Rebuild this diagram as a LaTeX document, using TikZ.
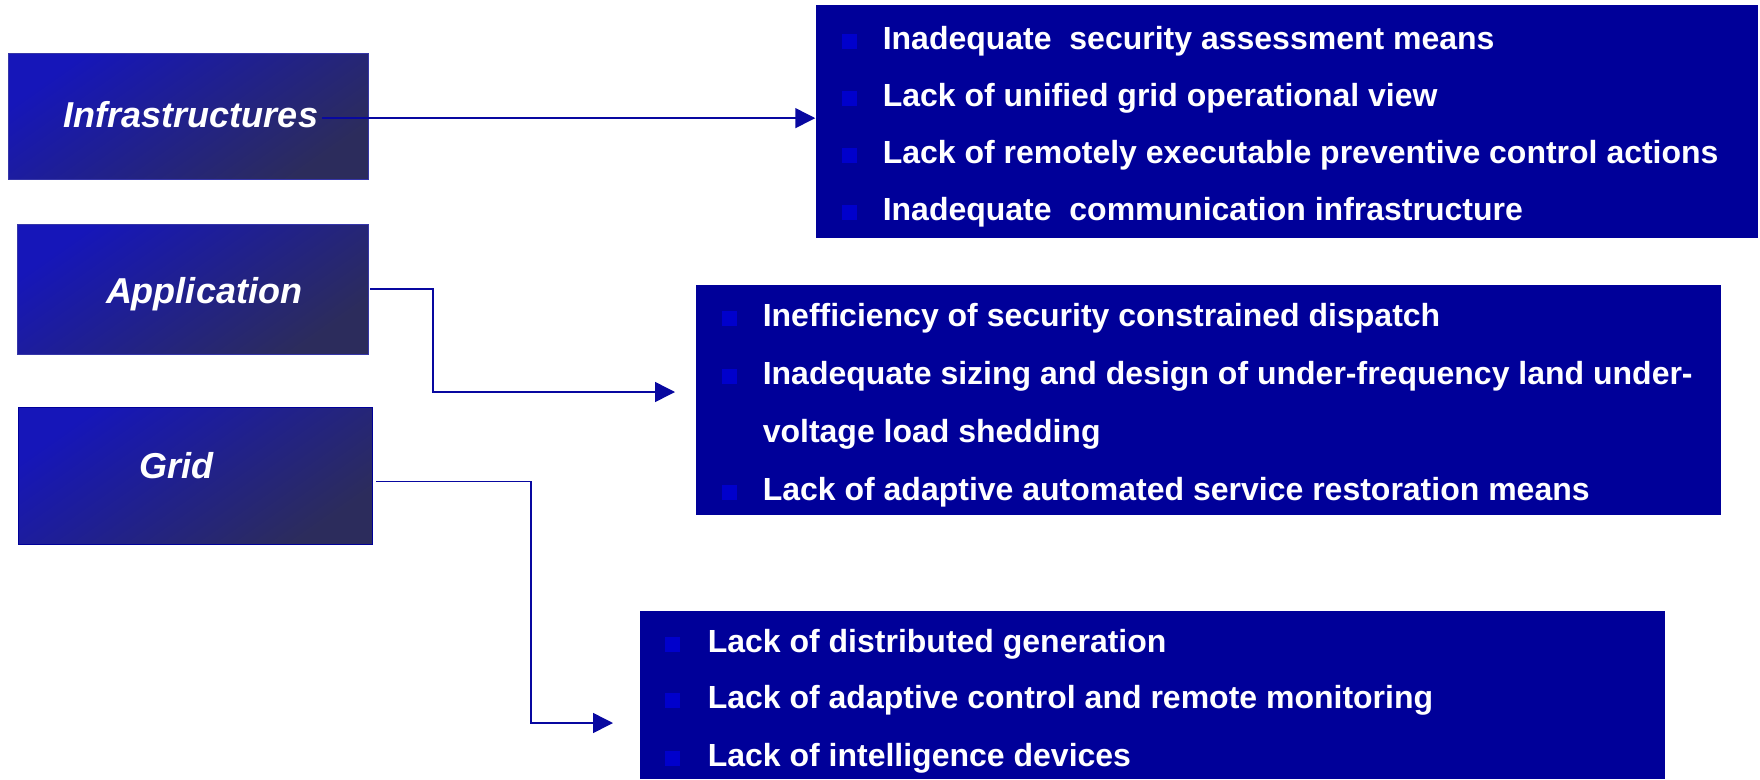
\documentclass[tikz,border=0pt]{standalone}
\usepackage{fontspec}
\setmainfont{Liberation Sans}
\usepackage{xcolor}
\usetikzlibrary{arrows.meta,positioning,calc}

\definecolor{boxblue}{RGB}{0,0,153}
\definecolor{markblue}{RGB}{0,0,204}
\definecolor{shadetop}{RGB}{22,22,185}
\definecolor{shademid}{RGB}{34,34,160}
\definecolor{shadebot}{RGB}{44,44,92}
\definecolor{linkblue}{RGB}{8,8,160}

\begin{document}
\begin{tikzpicture}[
            x = 1pt, y = -1pt, % pixel grid, y downwards
            > = {Triangle[length=20pt,width=20pt]}, % arrow head style
            line width = 1.5pt % line style
        ]

        \tikzstyle{areabox}=[
            shade,
            top color = shadetop,
            middle color = shademid,
            bottom color = shadebot,
            shading angle = 35,
            draw = shadetop!70!gray,
            line width = 0.6pt,
            inner sep = 0pt
        ]
        \tikzstyle{areatext}=[text = white, anchor = base, font = \fontsize{36}{42}\selectfont\bfseries\itshape]
        \tikzstyle{issuebox}=[fill = boxblue, inner sep = 0pt]
        \tikzstyle{issuetext}=[text = white, anchor = base west, inner sep = 0pt, font = \fontsize{32}{38}\selectfont\bfseries]
        \tikzstyle{issuemark}=[fill = markblue, minimum size = 15pt, inner sep = 0pt]
        \tikzstyle{link}=[draw = linkblue, ->]

        \useasboundingbox (0,0) rectangle (1760,779);

        % Areas
        \node[areabox, minimum width = 360pt, minimum height = 126pt] (infra) [at={(188,116)}] {};
        \node[areabox, minimum width = 351pt, minimum height = 130pt] (app) [at={(192.5,289)}] {};
        \node[areabox, minimum width = 354pt, minimum height = 137pt, draw = boxblue] (grid) [at={(195,475.5)}] {};
        \node[areatext] (infratxt) [at={(191,127)}] {Infrastructures};
        \node[areatext] (apptxt) [at={(204,303)}] {Application};
        \node[areatext] (gridtxt) [at={(176,478)}] {Grid};

        % Issues
        \node[issuebox, minimum width = 942pt, minimum height = 233pt] (issues1) [at={(1287,121.5)}] {};
        \node[issuebox, minimum width = 1025pt, minimum height = 230pt] (issues2) [at={(1208.5,400)}] {};
        \node[issuebox, minimum width = 1025pt, minimum height = 168pt] (issues3) [at={(1152.5,695)}] {};

        \node[issuemark] (m11) [at={(849,41)}] {};
        \node[issuemark] (m12) [at={(849,98)}] {};
        \node[issuemark] (m13) [at={(849,155)}] {};
        \node[issuemark] (m14) [at={(849,212)}] {};
        \node[issuetext] (t11) [at={(882,49)}] {Inadequate\ \ security assessment means};
        \node[issuetext] (t12) [at={(882,106)}] {Lack of unified grid operational view};
        \node[issuetext] (t13) [at={(882,163)}] {Lack of remotely executable preventive control actions};
        \node[issuetext] (t14) [at={(882,220)}] {Inadequate\ \ communication infrastructure};

        \node[issuemark] (m21) [at={(729,318)}] {};
        \node[issuemark] (m22) [at={(729,376)}] {};
        \node[issuemark] (m24) [at={(729,492)}] {};
        \node[issuetext] (t21) [at={(762,326)}] {Inefficiency of security constrained dispatch};
        \node[issuetext] (t22) [at={(762,384)}] {Inadequate sizing and design of under-frequency land under-};
        \node[issuetext] (t23) [at={(762,442)}] {voltage load shedding};
        \node[issuetext] (t24) [at={(762,500)}] {Lack of adaptive automated service restoration means};

        \node[issuemark] (m31) [at={(672,644)}] {};
        \node[issuemark] (m32) [at={(672,700)}] {};
        \node[issuemark] (m33) [at={(672,758)}] {};
        \node[issuetext] (t31) [at={(707,652)}] {Lack of distributed generation};
        \node[issuetext] (t32) [at={(707,708)}] {Lack of adaptive control and remote monitoring};
        \node[issuetext] (t33) [at={(707,766)}] {Lack of intelligence devices};

        % Links
        \coordinate (apptip) at (675,392);
        \coordinate (gridtip) at (613,723);
        \draw[link] ([yshift=-4pt]infratxt.east) -- ([yshift=-4pt]infratxt.east -| issues1.west);
        \draw[link] ([xshift=2pt]app.east) -| (433,392) -- (apptip);
        \draw[link] ([xshift=4pt,yshift=-6pt]grid.east) -| (531,723) -- (gridtip);

\end{tikzpicture}
\end{document}
